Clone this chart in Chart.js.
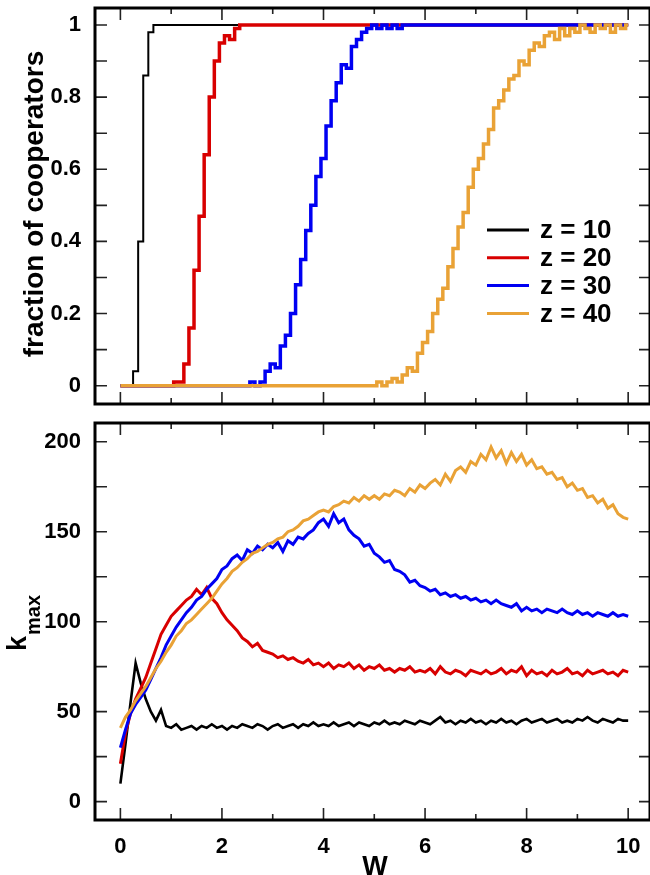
<!DOCTYPE html>
<html>
<head>
<meta charset="utf-8">
<script src="https://cdn.jsdelivr.net/npm/chart.js@4.4.0/dist/chart.umd.min.js"></script>
<style>
  html, body { margin: 0; padding: 0; background: #fff; overflow: hidden; }
  canvas { position: absolute; left: 0; }
</style>
</head>
<body>
<canvas id="coop" width="650" height="412" style="top:0"></canvas>
<canvas id="kmax" width="650" height="463" style="top:412px"></canvas>
<script>
// W grid shared by every series
const W = [
  0, 0.1, 0.2, 0.3, 0.4, 0.5, 0.6, 0.7, 0.8, 0.9,
  1, 1.1, 1.2, 1.3, 1.4, 1.5, 1.6, 1.7, 1.8, 1.9,
  2, 2.1, 2.2, 2.3, 2.4, 2.5, 2.6, 2.7, 2.8, 2.9,
  3, 3.1, 3.2, 3.3, 3.4, 3.5, 3.6, 3.7, 3.8, 3.9,
  4, 4.1, 4.2, 4.3, 4.4, 4.5, 4.6, 4.7, 4.8, 4.9,
  5, 5.1, 5.2, 5.3, 5.4, 5.5, 5.6, 5.7, 5.8, 5.9,
  6, 6.1, 6.2, 6.3, 6.4, 6.5, 6.6, 6.7, 6.8, 6.9,
  7, 7.1, 7.2, 7.3, 7.4, 7.5, 7.6, 7.7, 7.8, 7.9,
  8, 8.1, 8.2, 8.3, 8.4, 8.5, 8.6, 8.7, 8.8, 8.9,
  9, 9.1, 9.2, 9.3, 9.4, 9.5, 9.6, 9.7, 9.8, 9.9,
  10
];

const seriesNames = ['z = 10', 'z = 20', 'z = 30', 'z = 40'];
const seriesColours = ['#000000', '#d80000', '#0000f2', '#e9a236'];

// fraction of cooperators
const coopZ10 = [
  0, 0, 0, 0.04, 0.4, 0.86, 0.98, 1, 1, 1,
  1, 1, 1, 1, 1, 1, 1, 1, 1, 1,
  1, 1, 1, 1, 1, 1, 1, 1, 1, 1,
  1, 1, 1, 1, 1, 1, 1, 1, 1, 1,
  1, 1, 1, 1, 1, 1, 1, 1, 1, 1,
  1, 1, 1, 1, 1, 1, 1, 1, 1, 1,
  1, 1, 1, 1, 1, 1, 1, 1, 1, 1,
  1, 1, 1, 1, 1, 1, 1, 1, 1, 1,
  1, 1, 1, 1, 1, 1, 1, 1, 1, 1,
  1, 1, 1, 1, 1, 1, 1, 1, 1, 1,
  1
];
const coopZ20 = [
  0, 0, 0, 0, 0, 0, 0, 0, 0, 0,
  0, 0.01, 0.01, 0.06, 0.16, 0.32, 0.47, 0.64, 0.8, 0.9,
  0.95, 0.97, 0.96, 0.99, 1, 1, 1, 1, 1, 1,
  1, 1, 1, 1, 1, 1, 1, 1, 1, 1,
  1, 1, 1, 1, 1, 1, 1, 1, 1, 1,
  1, 1, 1, 1, 1, 1, 1, 1, 1, 1,
  1, 1, 1, 1, 1, 1, 1, 1, 1, 1,
  1, 1, 1, 1, 1, 1, 1, 1, 1, 1,
  1, 1, 1, 1, 1, 1, 1, 1, 1, 1,
  1, 1, 1, 1, 1, 1, 1, 1, 1, 1,
  1
];
const coopZ30 = [
  0, 0, 0, 0, 0, 0, 0, 0, 0, 0,
  0, 0, 0, 0, 0, 0, 0, 0, 0, 0,
  0, 0, 0, 0, 0, 0, 0.01, 0, 0.01, 0.04,
  0.06, 0.05, 0.11, 0.14, 0.2, 0.28, 0.35, 0.43, 0.5, 0.58,
  0.63, 0.72, 0.79, 0.84, 0.89, 0.88, 0.94, 0.96, 0.98, 0.99,
  1, 0.99, 1, 0.99, 1, 0.99, 1, 1, 1, 1,
  1, 1, 1, 1, 1, 1, 1, 1, 1, 1,
  1, 1, 1, 1, 1, 1, 1, 1, 1, 1,
  1, 1, 1, 1, 1, 1, 1, 1, 1, 1,
  1, 1, 1, 1, 1, 1, 1, 1, 1, 1,
  1
];
const coopZ40 = [
  0, 0, 0, 0, 0, 0, 0, 0, 0, 0,
  0, 0, 0, 0, 0, 0, 0, 0, 0, 0,
  0, 0, 0, 0, 0, 0, 0, 0, 0, 0,
  0, 0, 0, 0, 0, 0, 0, 0, 0, 0,
  0, 0, 0, 0, 0, 0, 0, 0, 0, 0,
  0, 0.01, 0, 0.01, 0.02, 0.01, 0.03, 0.05, 0.04, 0.09,
  0.12, 0.15, 0.2, 0.24, 0.27, 0.33, 0.38, 0.44, 0.48, 0.55,
  0.6, 0.63, 0.67, 0.71, 0.77, 0.79, 0.82, 0.85, 0.86, 0.9,
  0.89, 0.93, 0.95, 0.94, 0.97, 0.98, 0.96, 0.99, 0.97, 0.99,
  0.98, 1, 0.99, 0.98, 1, 0.99, 1, 0.98, 1, 0.99,
  1
];

// k_max
const kZ10 = [
  10, 32, 55, 77, 66, 57, 50, 45, 51, 42,
  41, 43, 40, 41, 42, 40, 42, 41, 43, 41,
  42, 40, 42, 41, 43, 42, 41, 43, 42, 40,
  42, 43, 41, 42, 43, 41, 43, 42, 44, 42,
  43, 42, 44, 42, 43, 44, 42, 44, 43, 42,
  44, 43, 45, 43, 44, 43, 45, 44, 43, 45,
  44, 43, 45, 47, 44, 45, 43, 45, 44, 46,
  44, 45, 43, 45, 44, 46, 44, 45, 43, 45,
  46, 44, 45, 46, 44, 45, 46, 44, 45, 44,
  46, 45, 47, 45, 44, 46, 45, 44, 46, 45,
  45
];
const kZ20 = [
  21, 38, 49, 57, 63, 69, 77, 85, 93, 98,
  103, 106, 109, 112, 114, 118, 115, 119, 113, 110,
  105, 101, 98, 95, 91, 89, 86, 88, 84, 83,
  82, 80, 81, 79, 80, 78, 77, 79, 76, 77,
  75, 77, 74, 76, 75, 77, 74, 76, 73, 75,
  74, 76, 73, 74, 72, 74, 73, 75, 72, 73,
  72, 74, 71, 75, 72, 71, 73, 72, 70, 73,
  72, 71, 73, 71, 72, 74, 71, 73, 72, 75,
  70, 73, 71, 72, 70, 73, 71, 72, 74, 71,
  72, 70, 73, 71, 72, 73, 71, 72, 70, 73,
  72
];
const kZ30 = [
  30, 40, 49, 54, 58, 62, 68, 74, 80, 87,
  92, 97, 101, 105, 108, 112, 114, 118, 121, 124,
  129, 131, 135, 137, 134, 140, 138, 142, 140, 143,
  141, 144, 139, 145, 143, 147, 146, 149, 151, 155,
  157, 153, 160, 155, 157, 151, 148, 146, 142, 143,
  138, 136, 133, 134, 129, 128, 126, 122, 123, 120,
  119, 117, 118, 115, 116, 114, 115, 113, 114, 112,
  113, 111, 112, 110, 112, 110, 109, 108, 110, 106,
  108, 106, 107, 105, 107, 106, 105, 107, 105, 104,
  106, 104, 105, 103, 105, 104, 103, 105, 103, 104,
  103
];
const kZ40 = [
  41, 47, 51, 56, 60, 64, 69, 74, 78, 83,
  87, 92, 95, 99, 101, 104, 107, 110, 113, 117,
  121, 124, 128, 130, 133, 135, 138, 139, 141, 143,
  144, 146, 147, 150, 151, 153, 156, 157, 159, 161,
  162, 161, 164, 165, 167, 166, 169, 167, 170, 168,
  170, 168, 171, 170, 173, 172, 170, 174, 172, 176,
  174, 177, 179, 176, 182, 178, 184, 186, 183, 189,
  187, 193, 190, 197, 191, 195, 188, 194, 189, 193,
  187, 190, 185, 186, 182, 183, 179, 180, 175, 177,
  173, 174, 169, 170, 166, 168, 163, 165, 160, 158,
  157
];

// tick labels and tick marks
const xTickLabels = [0, 2, 4, 6, 8, 10];
const xTickMarks = [0, 1, 2, 3, 4, 5, 6, 7, 8, 9, 10];
const coopTickLabels = [0, 0.2, 0.4, 0.6, 0.8, 1];
const coopTickMarks = [0, 0.1, 0.2, 0.3, 0.4, 0.5, 0.6, 0.7, 0.8, 0.9, 1];
const kTickLabels = [0, 50, 100, 150, 200];
const kTickMarks = [0, 25, 50, 75, 100, 125, 150, 175, 200];

const FONT = "'Liberation Sans', Arial, Helvetica, sans-serif";

function toPoints(ys) {
  return W.map((w, i) => ({ x: w, y: ys[i] }));
}

function makeDatasets(series, widths, stepped) {
  return series.map((ys, i) => ({
    label: seriesNames[i],
    data: toPoints(ys),
    borderColor: seriesColours[i],
    borderWidth: widths[i],
    pointRadius: 0,
    tension: 0,
    stepped: stepped,
    order: series.length - 1 - i
  }));
}

// inward ticks on all four sides plus the heavy frame
const framePlugin = {
  id: 'frame',
  afterDatasetsDraw(chart, args, opts) {
    const { ctx, chartArea: a, scales: { x, y } } = chart;
    ctx.save();
    ctx.strokeStyle = '#222';
    ctx.lineWidth = 1.6;
    ctx.beginPath();
    for (const v of xTickMarks) {
      const px = x.getPixelForValue(v);
      const len = v % 2 === 0 ? 12 : 6;
      ctx.moveTo(px, a.bottom); ctx.lineTo(px, a.bottom - len);
      ctx.moveTo(px, a.top); ctx.lineTo(px, a.top + len);
    }
    for (const v of opts.yMarks) {
      const py = y.getPixelForValue(v);
      ctx.moveTo(a.left, py); ctx.lineTo(a.left + 12, py);
      ctx.moveTo(a.right, py); ctx.lineTo(a.right - 11, py);
    }
    ctx.stroke();
    ctx.lineWidth = 3;
    ctx.strokeStyle = '#000';
    ctx.strokeRect(a.left, a.top, a.width, a.height);
    ctx.restore();
  }
};

// axis titles (k_max needs a subscript, so all are drawn here)
const titlePlugin = {
  id: 'titles',
  afterDraw(chart, args, opts) {
    const ctx = chart.ctx;
    ctx.save();
    ctx.fillStyle = '#000';
    ctx.textBaseline = 'alphabetic';
    if (opts.which === 'coop') {
      ctx.translate(43, 204);
      ctx.rotate(-Math.PI / 2);
      ctx.textAlign = 'center';
      ctx.font = 'bold 28px ' + FONT;
      ctx.fillText('fraction of cooperators', 0, 0);
    } else {
      ctx.save();
      ctx.translate(26, 239);
      ctx.rotate(-Math.PI / 2);
      ctx.textAlign = 'left';
      ctx.font = 'bold 27px ' + FONT;
      ctx.fillText('k', 0, 0);
      const kw = ctx.measureText('k').width;
      ctx.font = 'bold 20px ' + FONT;
      ctx.fillText('max', kw + 1, 14);
      ctx.restore();
      ctx.textAlign = 'center';
      ctx.font = 'bold 27px ' + FONT;
      ctx.fillText('W', 375, 463);
    }
    ctx.restore();
  }
};

// legend sitting inside the upper panel
const legendPlugin = {
  id: 'insideLegend',
  afterDraw(chart, args, opts) {
    if (!opts.show) return;
    const ctx = chart.ctx;
    ctx.save();
    ctx.font = 'bold 26px ' + FONT;
    ctx.textBaseline = 'middle';
    ctx.textAlign = 'left';
    seriesNames.forEach((name, i) => {
      const yy = 230 + i * 27.8;
      ctx.strokeStyle = seriesColours[i];
      ctx.lineWidth = 3;
      ctx.beginPath();
      ctx.moveTo(487, yy);
      ctx.lineTo(529, yy);
      ctx.stroke();
      ctx.fillStyle = '#000';
      ctx.fillText(name, 540, yy + 1);
    });
    ctx.restore();
  }
};

function baseScales(yMin, yMax, yLabels, xHeight, showX) {
  return {
    x: {
      type: 'linear',
      min: -0.5,
      max: 10.43,
      grid: { display: false },
      border: { display: false },
      afterBuildTicks: s => { s.ticks = xTickLabels.map(v => ({ value: v })); },
      afterFit: s => { s.height = xHeight; s.paddingLeft = 0; s.paddingRight = 0; },
      ticks: {
        display: showX,
        padding: 6,
        color: '#000',
        font: { family: FONT, size: 22, weight: 'bold' },
        callback: v => String(v)
      }
    },
    y: {
      type: 'linear',
      min: yMin,
      max: yMax,
      grid: { display: false },
      border: { display: false },
      afterBuildTicks: s => { s.ticks = yLabels.map(v => ({ value: v })); },
      afterFit: s => { s.width = 95; s.paddingTop = 0; s.paddingBottom = 0; },
      ticks: {
        padding: 6,
        color: '#000',
        font: { family: FONT, size: 22, weight: 'bold' },
        callback: v => String(v)
      }
    }
  };
}

Chart.defaults.animation = false;

new Chart(document.getElementById('coop'), {
  type: 'line',
  data: {
    datasets: makeDatasets([coopZ10, coopZ20, coopZ30, coopZ40], [2, 3.5, 3.5, 3.5], 'middle')
  },
  options: {
    responsive: false,
    devicePixelRatio: 1,
    events: [],
    layout: { padding: { top: 8, right: 0, bottom: 0, left: 0 } },
    scales: baseScales(-0.0507, 1.047, coopTickLabels, 8, false),
    plugins: {
      legend: { display: false },
      tooltip: { enabled: false },
      frame: { yMarks: coopTickMarks },
      titles: { which: 'coop' },
      insideLegend: { show: true }
    }
  },
  plugins: [framePlugin, titlePlugin, legendPlugin]
});

new Chart(document.getElementById('kmax'), {
  type: 'line',
  data: {
    datasets: makeDatasets([kZ10, kZ20, kZ30, kZ40], [2.6, 3, 3, 3], false)
  },
  options: {
    responsive: false,
    devicePixelRatio: 1,
    events: [],
    layout: { padding: { top: 11, right: 0, bottom: 0, left: 0 } },
    scales: baseScales(-10.2, 210.4, kTickLabels, 55, true),
    plugins: {
      legend: { display: false },
      tooltip: { enabled: false },
      frame: { yMarks: kTickMarks },
      titles: { which: 'kmax' },
      insideLegend: { show: false }
    }
  },
  plugins: [framePlugin, titlePlugin, legendPlugin]
});
</script>
</body>
</html>
